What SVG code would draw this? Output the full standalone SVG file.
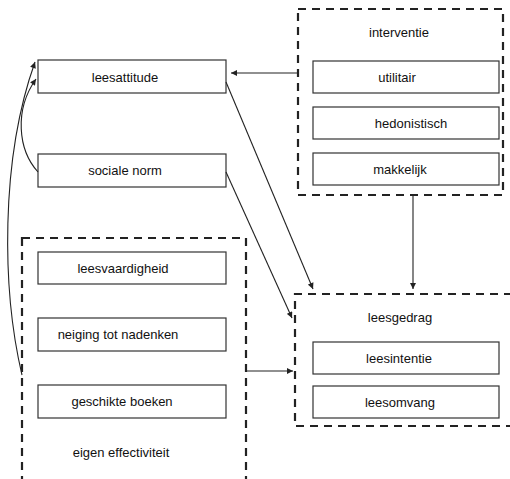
<svg xmlns="http://www.w3.org/2000/svg" width="510" height="479" viewBox="0 0 510 479">
<style>
.box{fill:#fff;stroke:#333;stroke-width:1.2}
.grp{fill:none;stroke:#222;stroke-width:2.2;stroke-dasharray:8 6}
.lbl{font-family:"Liberation Sans",Arial,sans-serif;font-size:13px;fill:#111;text-anchor:middle}
.con{fill:none;stroke:#222;stroke-width:1.1}
</style>
<defs>
<marker id="ah" viewBox="0 0 10 10" refX="10" refY="5" markerWidth="8" markerHeight="6" markerUnits="userSpaceOnUse" orient="auto">
<path d="M0,0 L10,5 L0,10 Z" fill="#222"/>
</marker>
</defs>
<rect width="510" height="479" fill="#fff"/>
<g id="interventie">
<rect class="grp" x="298" y="9" width="205" height="186"/>
<text class="lbl" x="399" y="37">interventie</text>
<g id="utilitair"><rect class="box" x="313" y="61" width="186" height="32"/><text class="lbl" x="397" y="82">utilitair</text></g>
<g id="hedonistisch"><rect class="box" x="313" y="107" width="186" height="32"/><text class="lbl" x="411" y="128">hedonistisch</text></g>
<g id="makkelijk"><rect class="box" x="313" y="153" width="186" height="32"/><text class="lbl" x="400" y="174">makkelijk</text></g>
</g>
<g id="leesattitude"><rect class="box" x="38" y="60" width="188" height="33"/><text class="lbl" x="125" y="82">leesattitude</text></g>
<g id="sociale-norm"><rect class="box" x="38" y="154" width="188" height="33"/><text class="lbl" x="125" y="175">sociale norm</text></g>
<g id="eigen-effectiviteit">
<rect class="grp" x="22" y="238" width="224" height="242"/>
<text class="lbl" x="121" y="457">eigen effectiviteit</text>
<g id="leesvaardigheid"><rect class="box" x="38" y="252" width="188" height="32"/><text class="lbl" x="123" y="273">leesvaardigheid</text></g>
<g id="neiging"><rect class="box" x="38" y="318" width="188" height="33"/><text class="lbl" x="118" y="339">neiging tot nadenken</text></g>
<g id="geschikte-boeken"><rect class="box" x="38" y="385" width="188" height="33"/><text class="lbl" x="122" y="406">geschikte boeken</text></g>
</g>
<g id="leesgedrag">
<path class="grp" d="M512,294 H295 V426 H512"/>
<text class="lbl" x="400" y="322">leesgedrag</text>
<g id="leesintentie"><rect class="box" x="313" y="342" width="186" height="32"/><text class="lbl" x="399" y="363">leesintentie</text></g>
<g id="leesomvang"><rect class="box" x="313" y="386" width="186" height="32"/><text class="lbl" x="400" y="407">leesomvang</text></g>
</g>
<g id="connectors">
<path class="con" d="M298,73 H231" marker-end="url(#ah)"/>
<path class="con" d="M413,195 V289" marker-end="url(#ah)"/>
<path class="con" d="M226,82 L313,289" marker-end="url(#ah)"/>
<path class="con" d="M226,172 L292,318" marker-end="url(#ah)"/>
<path class="con" d="M246,371 H293" marker-end="url(#ah)"/>
<path class="con" d="M38,172 C18,150 14,110 36,79" marker-end="url(#ah)"/>
<path class="con" d="M22,375 C2,290 0,160 35,62" marker-end="url(#ah)"/>
</g>
</svg>
